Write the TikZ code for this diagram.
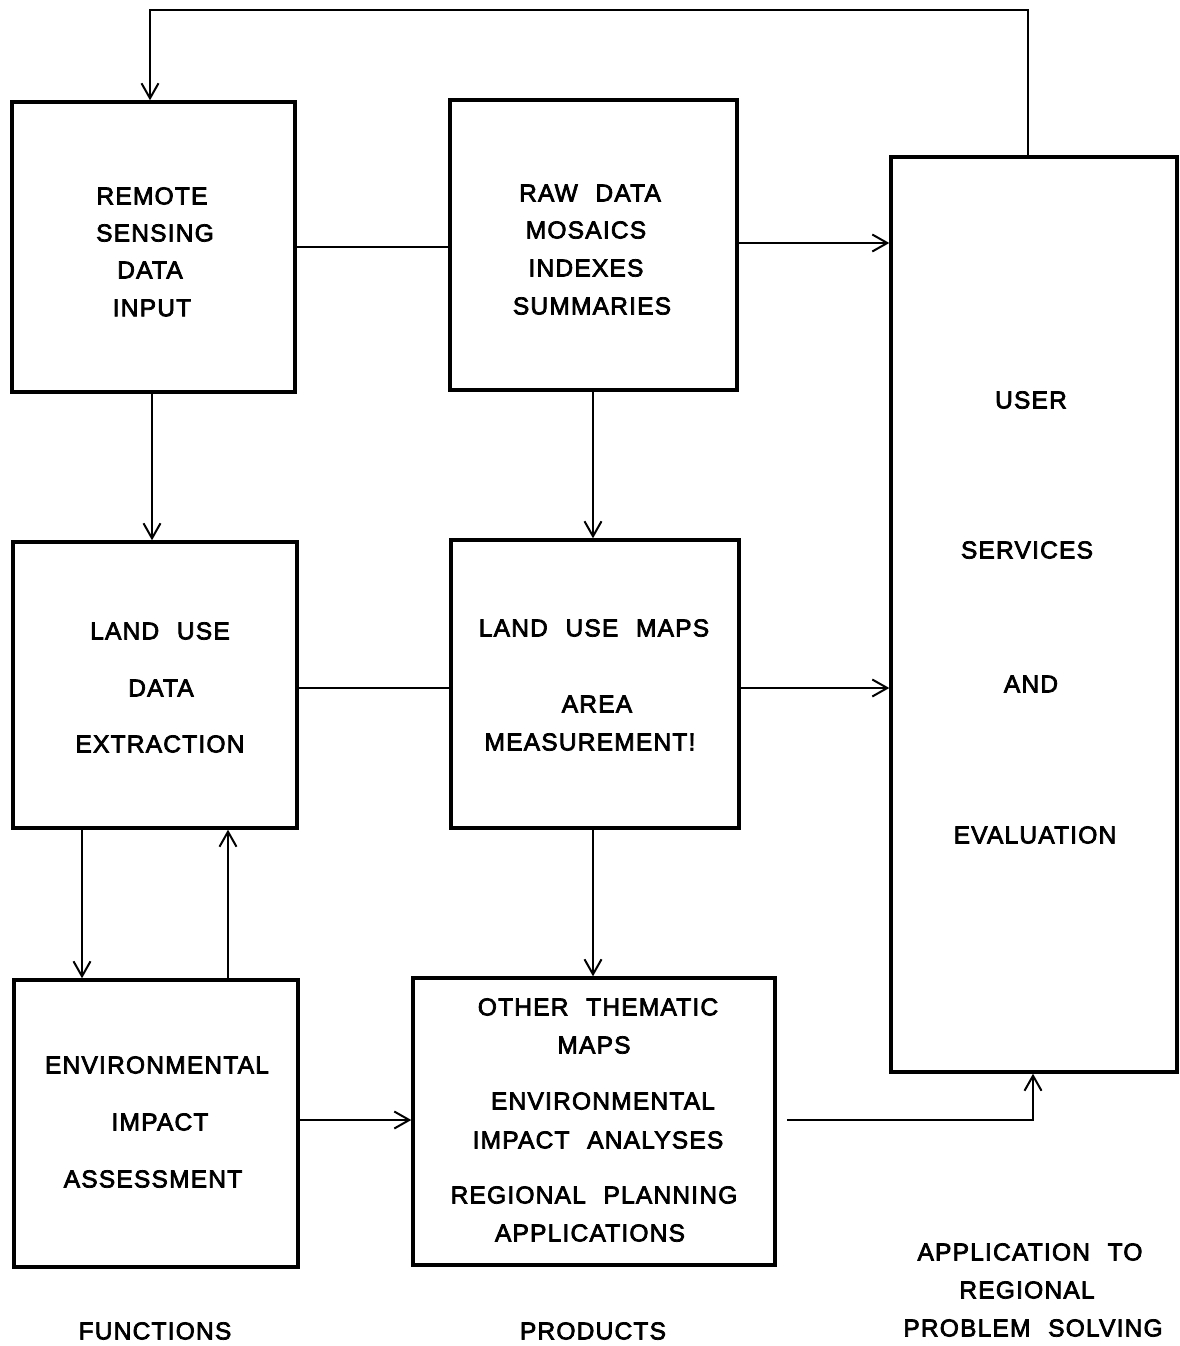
\documentclass[tikz,border=0pt]{standalone}
\usepackage{fontspec}
\setmainfont{Liberation Sans}[LetterSpace=5,WordSpace=2.2,FakeBold=3]
\usetikzlibrary{arrows.meta}
\begin{document}
\begin{tikzpicture}[x=1pt,y=-1pt,
  box/.style={draw, line width=3.4pt, inner sep=0pt},
  txt/.style={inner sep=0pt, font=\fontsize{24.5}{28}\selectfont},
  ln/.style={line width=2pt},
  arr/.style={line width=2pt, -{Straight Barb[length=15pt,width=17pt,line width=2pt]}}]
\fill[white] (0,0) rectangle (1180,1346);
\useasboundingbox (0,0) rectangle (1180,1346);
% boxes
\node[box, minimum width=283pt, minimum height=290pt] (b1) at (153.5,247) {};
\node[box, minimum width=287pt, minimum height=290pt] (b2) at (593.5,245) {};
\node[box, minimum width=286pt, minimum height=915pt] (b3) at (1034,614.5) {};
\node[box, minimum width=284pt, minimum height=286pt] (b4) at (155,685) {};
\node[box, minimum width=288pt, minimum height=288pt] (b5) at (595,684) {};
\node[box, minimum width=284pt, minimum height=287pt] (b6) at (156,1123.5) {};
\node[box, minimum width=362pt, minimum height=287pt] (b7) at (594,1121.5) {};
% texts
\node[txt] (t1a) at (152,196) {REMOTE};
\node[txt] (t1b) at (155,233) {SENSING};
\node[txt] (t1c) at (150,270) {DATA};
\node[txt] (t1d) at (152,308) {INPUT};
\node[txt] (t2a) at (590,193) {RAW DATA};
\node[txt] (t2b) at (586,230) {MOSAICS};
\node[txt] (t2c) at (586,268) {INDEXES};
\node[txt] (t2d) at (592,306) {SUMMARIES};
\node[txt] (t3a) at (1031,400) {USER};
\node[txt] (t3b) at (1027,550) {SERVICES};
\node[txt] (t3c) at (1031,684) {AND};
\node[txt] (t3d) at (1035,835) {EVALUATION};
\node[txt] (t4a) at (160,631) {LAND USE};
\node[txt] (t4b) at (161,688) {DATA};
\node[txt] (t4c) at (160,744) {EXTRACTION};
\node[txt] (t5a) at (594,628) {LAND USE MAPS};
\node[txt] (t5b) at (597,704) {AREA};
\node[txt] (t5c) at (590,742) {MEASUREMENT!};
\node[txt] (t6a) at (157,1065) {ENVIRONMENTAL};
\node[txt] (t6b) at (160,1122) {IMPACT};
\node[txt] (t6c) at (153,1179) {ASSESSMENT};
\node[txt] (t7a) at (598,1007) {OTHER THEMATIC};
\node[txt] (t7b) at (594,1045) {MAPS};
\node[txt] (t7c) at (603,1101) {ENVIRONMENTAL};
\node[txt] (t7d) at (598,1140) {IMPACT ANALYSES};
\node[txt] (t7e) at (594,1195) {REGIONAL PLANNING};
\node[txt] (t7f) at (590,1233) {APPLICATIONS};
\node[txt] (l1) at (155,1331) {FUNCTIONS};
\node[txt] (l2) at (593,1331) {PRODUCTS};
\node[txt] (l3a) at (1030,1252) {APPLICATION TO};
\node[txt] (l3b) at (1027,1290) {REGIONAL};
\node[txt] (l3c) at (1033,1328) {PROBLEM SOLVING};
% coordinates
\coordinate (xloopR) at (1028,10);
\coordinate (xloopL) at (150,10);
\coordinate (y247) at (0,247);
\coordinate (y243) at (0,243);
\coordinate (y688) at (0,688);
\coordinate (y1120) at (0,1120);
\coordinate (x82) at (82,0);
\coordinate (x228) at (228,0);
\coordinate (x152) at (152,0);
\coordinate (x593) at (593,0);
\coordinate (x1033) at (1033,0);
\coordinate (s7) at (787,1120);
\coordinate (k7) at (1033,1120);
% connectors
\draw[arr] (xloopR |- b3.north) -- (xloopR) -- (xloopL) -- (xloopL |- b1.north);
\draw[ln] (b1.east |- y247) -- (b2.west |- y247);
\draw[arr] (b2.east |- y243) -- (b3.west |- y243);
\draw[arr] (x152 |- b1.south) -- (x152 |- b4.north);
\draw[arr] (x593 |- b2.south) -- (x593 |- b5.north);
\draw[ln] (b4.east |- y688) -- (b5.west |- y688);
\draw[arr] (b5.east |- y688) -- (b3.west |- y688);
\draw[arr] (x82 |- b4.south) -- (x82 |- b6.north);
\draw[arr] (x228 |- b6.north) -- (x228 |- b4.south);
\draw[arr] (x593 |- b5.south) -- (x593 |- b7.north);
\draw[arr] (b6.east |- y1120) -- (b7.west |- y1120);
\draw[arr] (s7) -- (k7) -- (x1033 |- b3.south);
\end{tikzpicture}
\end{document}
